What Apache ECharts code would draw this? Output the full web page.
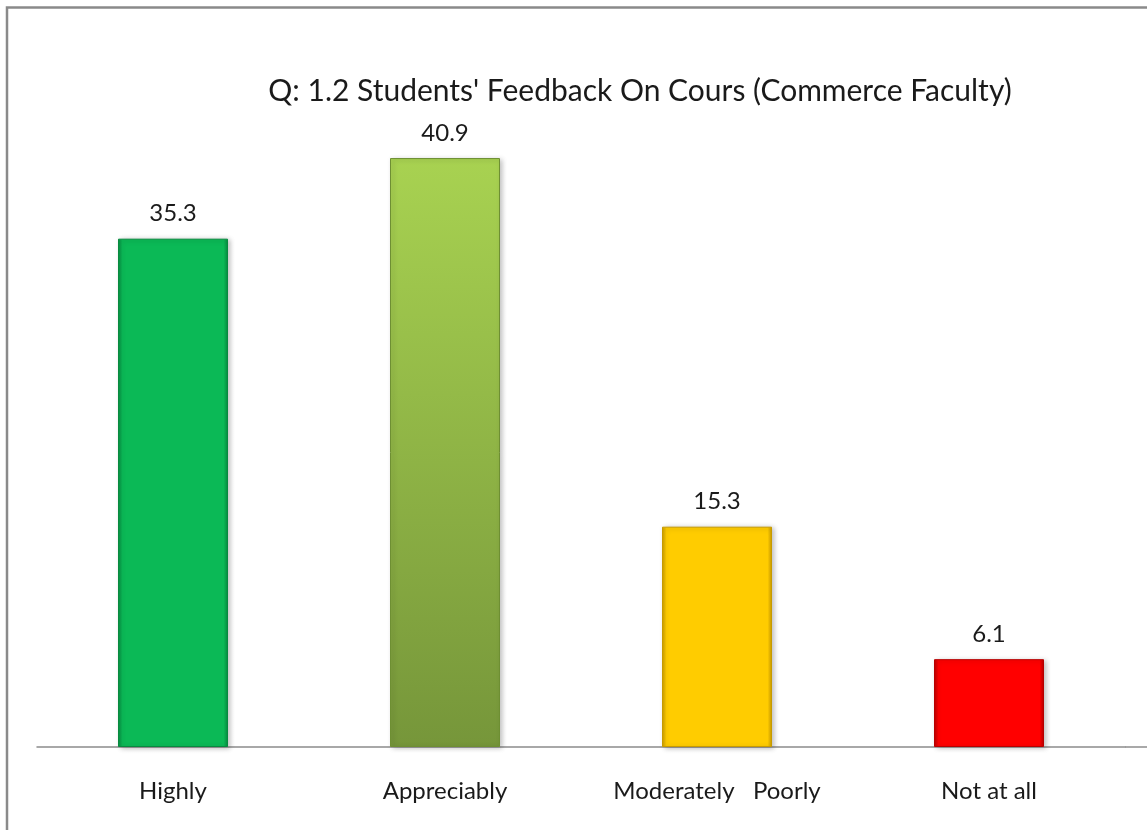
<!DOCTYPE html>
<html><head><meta charset="utf-8">
<script src="https://cdn.jsdelivr.net/npm/echarts@6/dist/echarts.min.js"></script>
<style>html,body{margin:0;padding:0;background:#fff}#c{width:1147px;height:830px}</style>
</head><body><div id="c"></div>
<script>
const titleText = "Q: 1.2 Students' Feedback On Cours (Commerce Faculty)";
const categories = ["Highly", "Appreciably", "Moderately   Poorly", "Not at all"];
const values = [35.3, 40.9, 15.3, 6.1];
const barColors = [
  ["#19C463", "#0BB956", "#078A3F"],
  ["#AAD452", "#8DB347", "#6E8F33"],
  ["#FFD31A", "#FFCC00", "#C79A00"],
  ["#FF2020", "#FF0000", "#B80000"]
];
const chart = echarts.init(document.getElementById('c'));
function grad(c){
  return new echarts.graphic.LinearGradient(0,0,1,0,[
    {offset:0,color:c[2]},{offset:0.04,color:c[1]},{offset:0.96,color:c[1]},{offset:1,color:c[2]}
  ]);
}
const data = values.map((v,i)=>{
  const c = barColors[i];
  let color = grad(c);
  if(i===1){
    color = new echarts.graphic.LinearGradient(0,0,0,1,[
      {offset:0,color:"#A8D251"},{offset:1,color:"#76963A"}
    ]);
  }
  return {value:v, itemStyle:{color:color, borderColor:c[2], borderWidth:1,
    shadowColor:'rgba(0,0,0,0.25)', shadowBlur:5, shadowOffsetX:2, shadowOffsetY:1}};
});
chart.setOption({
  animation:false,
  backgroundColor:'#fff',
  title:{text:titleText, left:635, top:71, textAlign:'center',
    textStyle:{fontFamily:'Lato', fontSize:30, fontWeight:'normal', color:'#1a1a1a'}},
  grid:{left:37, right:22, top:99, bottom:83, containLabel:false},
  xAxis:{type:'category', data:categories,
    axisLine:{lineStyle:{color:'#8c8c8c', width:1.5}},
    axisTick:{show:false},
    axisLabel:{margin:32, fontFamily:'Lato', fontSize:24, color:'#1a1a1a'}},
  yAxis:{type:'value', min:0, max:45, show:false, splitLine:{show:false}},
  series:[{type:'bar', data:data, barWidth:110,
    label:{show:true, position:'top', distance:13, fontFamily:'Lato', fontSize:24, color:'#1a1a1a',
      formatter:p=>p.value.toFixed(1)}}],
  graphic:[
    {type:'polyline', shape:{points:[[7,830],[7,7.5],[1147,7.5]]}, style:{stroke:'#8a8a8a', lineWidth:2.5, fill:null}},
    {type:'line', shape:{x1:1125,y1:747,x2:1147,y2:747}, style:{stroke:'#8c8c8c', lineWidth:1.5}}
  ]
});
</script></body></html>
